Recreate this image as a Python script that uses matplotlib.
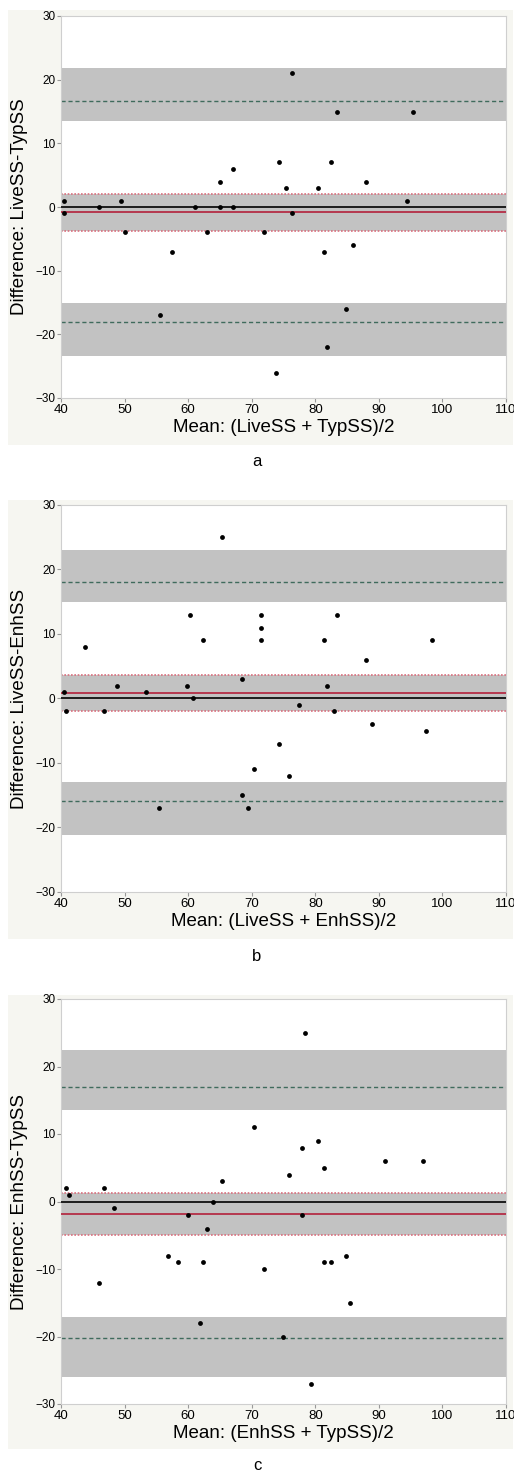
import matplotlib
matplotlib.use("Agg")
import matplotlib.pyplot as plt
from matplotlib.patches import Rectangle

plt.rcParams['font.family'] = ['Liberation Sans', 'DejaVu Sans']
plt.rcParams['axes.unicode_minus'] = True

# panel a: LiveSS vs TypSS
a_mean = [40.4, 40.4, 46, 49.5, 50, 55.5, 57.5, 61, 63, 65, 65, 67, 67, 72, 73.8,
          74.3, 75.4, 76.3, 76.3, 80.4, 81.4, 81.9, 82.4, 83.4, 84.9, 85.9, 87.9, 94.4, 95.4]
a_diff = [1, -1, 0, 1, -4, -17, -7, 0, -4, 4, 0, 6, 0, -4, -26,
          7, 3, 21, -1, 3, -7, -22, 7, 15, -16, -6, 4, 1, 15]
a_bias = -0.75
a_bias_ci = (-3.7, 2.1)
a_upper = 16.6
a_upper_ci = (13.5, 21.8)
a_lower = -18.0
a_lower_ci = (-23.4, -15.1)

# panel b: LiveSS vs EnhSS
b_mean = [40.4, 40.8, 43.8, 46.8, 48.8, 53.3, 55.4, 59.8, 60.3, 60.8, 62.3, 65.3, 68.4, 68.4,
          69.4, 70.4, 71.4, 71.4, 71.4, 74.3, 75.9, 77.4, 81.4, 81.9, 82.9, 83.4, 87.9, 88.9,
          97.4, 98.4]
b_diff = [1, -2, 8, -2, 2, 1, -17, 2, 13, 0, 9, 25, 3, -15,
          -17, -11, 13, 11, 9, -7, -12, -1, 9, 2, -2, 13, 6, -4,
          -5, 9]
b_bias = 0.9
b_bias_ci = (-2.0, 3.7)
b_upper = 18.0
b_upper_ci = (14.9, 23.1)
b_lower = -15.9
b_lower_ci = (-21.1, -13.0)

# panel c: EnhSS vs TypSS
c_mean = [40.8, 41.3, 45.9, 46.8, 48.3, 56.9, 58.4, 59.9, 61.9, 62.4, 62.9, 63.9, 65.4, 70.4,
          71.9, 74.9, 75.9, 77.9, 77.9, 78.4, 79.4, 80.4, 81.4, 81.4, 82.4, 84.9, 85.4, 91.0, 97.0]
c_diff = [2, 1, -12, 2, -1, -8, -9, -2, -18, -9, -4, 0, 3, 11,
          -10, -20, 4, 8, -2, 25, -27, 9, 5, -9, -9, -8, -15, 6, 6]
c_bias = -1.8
c_bias_ci = (-4.9, 1.3)
c_upper = 16.9
c_upper_ci = (13.6, 22.5)
c_lower = -20.2
c_lower_ci = (-26.0, -17.1)

panels = [
    (a_mean, a_diff, a_bias, a_bias_ci, a_upper, a_upper_ci, a_lower, a_lower_ci,
     "Difference: LiveSS-TypSS", "Mean: (LiveSS + TypSS)/2", "a"),
    (b_mean, b_diff, b_bias, b_bias_ci, b_upper, b_upper_ci, b_lower, b_lower_ci,
     "Difference: LiveSS-EnhSS", "Mean: (LiveSS + EnhSS)/2", "b"),
    (c_mean, c_diff, c_bias, c_bias_ci, c_upper, c_upper_ci, c_lower, c_lower_ci,
     "Difference: EnhSS-TypSS", "Mean: (EnhSS + TypSS)/2", "c"),
]

W, H = 514, 1476
fig = plt.figure(figsize=(W / 100, H / 100), dpi=100)

# pixel layout: (plot top, plot bottom, frame top, frame bottom, letter y)
layout = [
    (16, 398, 10, 445, 462),
    (505, 892, 500, 939, 957),
    (999, 1404, 995, 1449, 1466),
]
x0, x1 = 61, 506

for (mx, dy, bias, bias_ci, up, up_ci, lo, lo_ci, ylab, xlab, letter), (pt, pb, ft, fb, ly) in zip(panels, layout):
    # light frame behind each panel
    fig.patches.append(Rectangle((8 / W, 1 - fb / H), (513 - 8) / W, (fb - ft) / H,
                                 transform=fig.transFigure, facecolor='#f6f6f1',
                                 edgecolor='none', zorder=-5))
    ax = fig.add_axes([x0 / W, 1 - pb / H, (x1 - x0) / W, (pb - pt) / H])
    ax.set_zorder(1)
    ax.set_facecolor('white')
    ax.set_xlim(40, 110)
    ax.set_ylim(-30, 30)

    # confidence bands around limits and bias
    for lo_b, hi_b in (up_ci, lo_ci, bias_ci):
        ax.axhspan(lo_b, hi_b, color='#c2c2c2', lw=0, zorder=1)
    ax.axhline(up, color='#3f6b5c', ls=(0, (3, 2)), lw=1, zorder=2)
    ax.axhline(lo, color='#3f6b5c', ls=(0, (3, 2)), lw=1, zorder=2)
    for v in bias_ci:
        ax.axhline(v, color='#d9707e', ls=(0, (1, 1)), lw=1.2, zorder=2)
    ax.axhline(0, color='black', lw=1.2, zorder=3)
    ax.axhline(bias, color='#b3213b', lw=1.2, zorder=3)

    ax.scatter(mx, dy, s=12, color='black', zorder=4, linewidths=0)

    ax.set_xticks(range(40, 111, 10))
    ax.set_yticks(range(-30, 31, 10))
    ax.tick_params(axis='x', labelsize=9.5, length=3, color='#999999', pad=1)
    ax.tick_params(axis='y', labelsize=8.5, length=3, color='#999999', pad=1)
    for s in ax.spines.values():
        s.set_color('#cfcfcf')
        s.set_linewidth(0.8)

    fig.text(20 / W, 1 - (pt + pb) / 2 / H, ylab, rotation=90, ha='center', va='center',
             fontsize=13.5)
    fig.text((x0 + x1) / 2 / W, 1 - (pb + 30) / H, xlab, ha='center', va='center',
             fontsize=13.5)
    fig.text(257 / W, 1 - ly / H, letter, ha='center', va='center', fontsize=12)

fig.savefig("out.png", dpi=100, facecolor='white')
